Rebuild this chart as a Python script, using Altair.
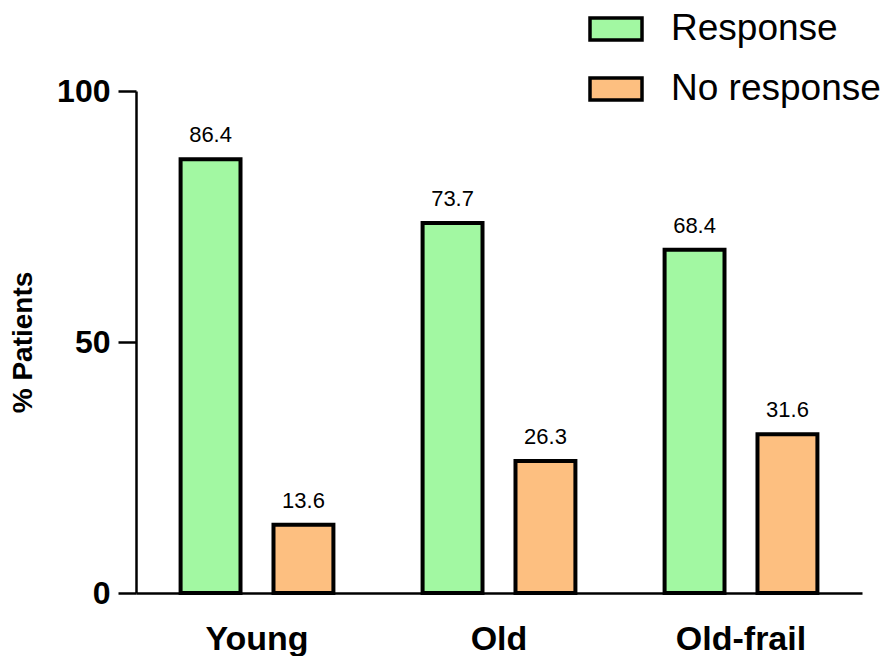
import altair as alt
import pandas as pd

groups = ["Young", "Old", "Old-frail"]
series = ["Response", "No response"]
response = [86.4, 73.7, 68.4]
no_response = [13.6, 26.3, 31.6]
colors = ["#a2f8a2", "#fdbf80"]

rows = []
for g, r, n in zip(groups, response, no_response):
    rows.append({"group": g, "series": "Response", "value": r})
    rows.append({"group": g, "series": "No response", "value": n})
df = pd.DataFrame(rows)

FONT = "Liberation Sans"

x = alt.X("group:N", sort=groups, title=None,
          scale=alt.Scale(paddingInner=0, paddingOuter=0),
          axis=alt.Axis(labelAngle=0, labelFontSize=34, labelFontWeight="bold",
                        labelFont=FONT, labelColor="black", labelPadding=29,
                        ticks=False, domainColor="black", domainWidth=2.5))
xo = alt.XOffset("series:N", sort=series,
                 scale=alt.Scale(paddingInner=0.355, paddingOuter=0.48))
y = alt.Y("value:Q", title="% Patients",
          scale=alt.Scale(domain=[0, 100], nice=False),
          axis=alt.Axis(values=[0, 50, 100], grid=False, tickSize=18, tickWidth=2.5,
                        tickColor="black", domainColor="black", domainWidth=2.5,
                        labelFontSize=32, labelFontWeight="bold", labelFont=FONT,
                        labelColor="black", labelPadding=8,
                        titleFontSize=28, titleFontWeight="bold", titleFont=FONT,
                        titleColor="black", titlePadding=19))

bars = alt.Chart(df).mark_bar(stroke="black", strokeWidth=4).encode(
    x=x, xOffset=xo, y=y,
    color=alt.Color("series:N", sort=series,
                    scale=alt.Scale(domain=series, range=colors),
                    legend=alt.Legend(title=None, orient="none", legendX=452, legendY=-90,
                                      labelFontSize=37, labelFont=FONT, labelColor="black",
                                      labelLimit=400,
                                      symbolType="M-1,-0.42H1V0.42H-1Z", symbolSize=2704,
                                      symbolStrokeColor="black", symbolStrokeWidth=3.5,
                                      symbolOpacity=1, labelOffset=27, rowPadding=14))
)

labels = alt.Chart(df).mark_text(baseline="bottom", dy=-12, fontSize=22, font=FONT,
                                 color="black").encode(
    x=x, xOffset=xo, y=y, text=alt.Text("value:Q", format=".1f")
)

chart = (bars + labels).properties(
    width=726, height=502,
    background="white",
    autosize=alt.AutoSizeParams(type="none"),
    padding={"left": 128, "top": 83, "right": 23, "bottom": 63},
).configure_view(strokeWidth=0)

chart.save("out.html", embed_options={"renderer": "svg", "actions": False})
